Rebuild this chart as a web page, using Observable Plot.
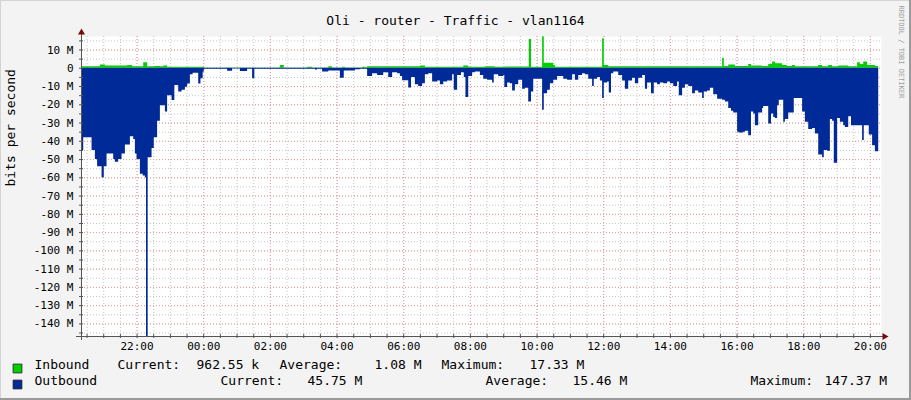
<!DOCTYPE html>
<html><head><meta charset="utf-8">
<script src="https://cdn.jsdelivr.net/npm/d3@7"></script>
<script src="https://cdn.jsdelivr.net/npm/@observablehq/plot@0.6"></script>
<style>
html,body{margin:0;padding:0;background:#f3f3f3;}
#chart{position:relative;width:911px;height:400px;box-shadow:inset -2px -2px 0 #9a9a9a, inset 1px 1px 0 #d4d4d4;}
#chart svg{display:block;}
</style></head><body><div id="chart"></div><script>
const title = "Oli - router - Traffic - vlan1164";
const yLabel = "bits per second";
const watermark = "RRDTOOL / TOBI OETIKER";

// Inbound (Mbit/s), step values starting at each time
const inTimes = ["20:20","20:54","21:03","21:43","21:52","22:12","22:19","22:33","22:42","22:48","22:55","00:01","02:18","02:25","03:07","03:16","03:45","03:52","04:10","04:15","04:46","04:52","04:55","06:30","06:39","07:48","07:57","08:27","08:45","09:03","09:46","09:50","10:10","10:13","10:30","10:33","11:58","12:01","12:09","15:34","15:37","15:45","15:57","16:21","16:26","16:46","16:57","17:04","17:09","17:22","17:31","17:40","17:45","18:27","18:34","18:45","18:52","19:03","19:21","19:37","19:42","19:48","19:55","20:09","20:15"];
const inValues = [0.8,1.8,1.2,1.5,0.8,3,0.8,1.0,0.8,1.2,0.5,0.2,1.5,0.2,0.6,0.2,0.8,0.2,0.6,0.2,0.6,0.3,0.8,1.2,0.6,1.2,0.6,0.9,0.6,0.7,15.7,0.5,17.33,2.8,1.5,0.6,16.2,1.5,0.8,5.5,1,1.8,1,2,1.2,1,2,3.5,2.5,1.5,1,1.5,0.8,1.5,0.8,1.5,0.8,1.3,0.8,3,2,3.5,1.5,0.96,0.96];

// Outbound (Mbit/s, drawn below zero)
const outTimes = ["20:20","20:24","20:39","20:45","20:49","20:57","21:01","21:06","21:18","21:21","21:27","21:33","21:39","21:48","21:54","21:57","22:00","22:06","22:11","22:15","22:17","22:20","22:27","22:31","22:37","22:42","22:51","22:55","23:03","23:08","23:15","23:21","23:27","23:31","23:36","23:41","23:51","23:55","23:59","00:01","00:43","00:52","01:06","01:19","01:28","01:32","03:21","03:25","03:34","03:45","04:06","04:13","04:33","04:42","04:55","05:04","05:13","05:24","05:33","05:40","05:49","05:54","05:58","06:09","06:14","06:21","06:27","06:34","06:39","06:45","06:52","07:01","07:06","07:12","07:19","07:28","07:31","07:37","07:44","07:49","07:52","07:57","08:04","08:09","08:18","08:24","08:31","08:40","08:43","08:51","09:00","09:02","09:07","09:12","09:16","09:21","09:27","09:34","09:39","09:45","09:50","09:54","10:10","10:13","10:19","10:24","10:30","10:37","10:48","10:55","11:04","11:09","11:15","11:22","11:27","11:33","11:40","11:43","11:49","11:54","11:58","12:01","12:07","12:10","12:14","12:18","12:27","12:34","12:39","12:45","12:52","12:57","13:03","13:10","13:15","13:19","13:26","13:31","13:37","13:42","13:48","13:55","14:00","14:06","14:13","14:16","14:22","14:27","14:33","14:40","14:45","14:51","14:58","15:01","15:07","15:12","15:18","15:25","15:34","15:39","15:45","15:50","15:54","16:01","16:04","16:12","16:15","16:21","16:26","16:30","16:33","16:39","16:46","16:48","16:57","17:02","17:06","17:09","17:13","17:16","17:24","17:27","17:33","17:43","17:58","18:03","18:09","18:16","18:21","18:27","18:34","18:37","18:43","18:48","18:52","18:55","19:01","19:06","19:12","19:15","19:21","19:26","19:46","19:49","19:58","20:04","20:09","20:15"];
const outValues = [45,38,45,50,54,60,54,47,50,51.5,50,47,42,37.5,39,47,50,58,59,60,147.37,49,44,38,29,20.5,24,15,17.7,9.5,13,12,10.4,8.6,3.5,2.7,8.6,5.8,2.2,0.5,1.6,0.4,1.8,0.5,5.8,0.5,1.0,0.5,2.0,1.5,5.5,1.5,0.8,0.5,4.5,3,4,2.5,5,2.5,3,4.5,6.8,10.8,5,9,10,8.5,3.5,3,7.5,7,9,7.5,7,3.5,12,4,2.5,5,16,4.5,2.5,2,4,6,6.5,8,3.5,4.5,4,10.5,8,8.5,12.5,9,6.5,11.5,11,18.5,13,6,23,14,12,8.5,6.5,4.5,6,6.5,3.5,6.5,4,3,3.5,6,10,6,5,7,16.5,8,7.5,13.5,3,2,4,7,11.5,7,5.5,8.5,5.5,4,11.5,8,14,8,9,8,8.5,7.5,8.5,10,7.5,15,11,9,10,14,12.5,13.5,16.5,13,12.5,11,14.5,17,17.5,18.5,22,23.5,24.5,35,35.5,35,34.5,37,24,25,31.5,24.5,22,21,30.5,25,27,27.5,20.5,17.5,29.5,28,24.5,16.5,24,29.5,33.5,33,36,47.5,49,45,45.5,28,29,52,27.5,29.5,31.5,32.5,26.5,31.5,39.5,31.5,36.5,42.5,45.75,45.75];

const xTickLabels = ["22:00","00:00","02:00","04:00","06:00","08:00","10:00","12:00","14:00","16:00","18:00","20:00"];
const yTicks = [10,0,-10,-20,-30,-40,-50,-60,-70,-80,-90,-100,-110,-120,-130,-140];

const legendNames = ["Inbound","Outbound"];
const legendColors = ["#00cf00","#002a97"];
const legendLabels = ["Current:","Average:","Maximum:"];
const inStats = ["962.55 k","1.08 M","17.33 M"];
const outStats = ["45.75 M","15.46 M","147.37 M"];

const start = new Date(2024,0,1,20,20);
const end = new Date(2024,0,2,20,20);
function toDate(s){const [h,m]=s.split(":").map(Number);let d=new Date(2024,0,1,h,m);if(d<start)d=new Date(2024,0,2,h,m);return d;}
const inData = inTimes.map((t,i)=>({t:toDate(t),v:inValues[i]}));
const outData = outTimes.map((t,i)=>({t:toDate(t),v:-outValues[i]}));
const majorX = xTickLabels.map(toDate);
const minorX = d3.timeMinute.every(30).range(start,end);
const yMin = -146.9, yMax = 17.4;
const minorY = d3.range(15,-146,-5);
const pxM = 10/18.26;   // Mbit/s per pixel
const pxT = 108000;     // ms per pixel

const mono = "DejaVu Sans Mono";
const legendX = [[34,117,196,279,374,441,529],[34,220,307,485,572,750,824]];
const rowsItems = [
  [legendNames[0], legendLabels[0], inStats[0], legendLabels[1], inStats[1], legendLabels[2], inStats[2]],
  [legendNames[1], legendLabels[0], outStats[0], legendLabels[1], outStats[1], legendLabels[2], outStats[2]]
];
const legendMarks = [];
rowsItems.forEach((items,ri)=>{
  items.forEach((s,k)=>legendMarks.push(Plot.text([s],{frameAnchor:"bottom-left", dx:legendX[ri][k]-81, dy:32+16*ri, textAnchor:"start", fontSize:13, fontFamily:mono, fill:"#000"})));
  legendMarks.push(Plot.dot([0],{frameAnchor:"bottom-left", dx:17-81, dy:32+16*ri, symbol:"square", r:5, fill:legendColors[ri], stroke:"#222", strokeWidth:0.8}));
});

const chart = Plot.plot({
  width:911, height:400,
  marginLeft:81, marginRight:30, marginTop:36, marginBottom:64,
  style:{background:"transparent", fontFamily:mono, color:"#000", overflow:"visible"},
  x:{type:"time", domain:[start,end], axis:null},
  y:{domain:[yMin,yMax], axis:null},
  marks:[
    Plot.frame({fill:"#fff", stroke:null}),
    Plot.ruleX(minorX,{stroke:"#c4c4c4", strokeDasharray:"1,2"}),
    Plot.ruleY(minorY,{stroke:"#c4c4c4", strokeDasharray:"1,2"}),
    Plot.ruleX(majorX,{stroke:"#ee9a9a", strokeDasharray:"1,2"}),
    Plot.ruleY(yTicks,{stroke:"#ee9a9a", strokeDasharray:"1,2"}),
    Plot.areaY(inData,{x:"t", y:"v", fill:"#00cf00", curve:"step-after"}),
    Plot.areaY(outData,{x:"t", y:"v", fill:"#002a97", curve:"step-after", clip:true}),
    // axis lines, ticks and arrows
    Plot.ruleY([yMin],{x1:new Date(start.getTime()-5*pxT), x2:new Date(end.getTime()+3*pxT), stroke:"#555"}),
    Plot.ruleX([start],{y1:yMin-4*pxM, y2:yMax+4*pxM, stroke:"#555"}),
    Plot.ruleX(minorX,{y1:yMin, y2:yMin, insetTop:-2, insetBottom:-2, stroke:"#555"}),
    Plot.ruleY(minorY,{x1:start, x2:start, insetLeft:-2, insetRight:-2, stroke:"#555"}),
    Plot.dot([0],{x:()=>new Date(end.getTime()+3*pxT), y:()=>yMin, symbol:"triangle", rotate:90, r:2.6, fill:"#7a0a0a", stroke:null}),
    Plot.dot([0],{x:()=>start, y:()=>yMax+4*pxM, symbol:"triangle", r:2.6, fill:"#7a0a0a", stroke:null}),
    // tick labels
    Plot.axisX({ticks:majorX, tickFormat:d3.timeFormat("%H:%M"), tickSize:0, tickPadding:6, fontSize:11, fontFamily:mono, label:null}),
    Plot.axisY({ticks:yTicks, tickFormat:d=>d===0?"0":`${d} M`, tickSize:0, tickPadding:8, fontSize:11, fontFamily:mono, label:null}),
    // texts
    Plot.text([title],{frameAnchor:"top-left", dx:374, dy:-21, textAnchor:"middle", fontSize:13, fontFamily:mono}),
    Plot.text([yLabel],{frameAnchor:"left", dx:-71, rotate:-90, fontSize:13, fontFamily:mono}),
    Plot.text([watermark],{frameAnchor:"top-right", dx:22, dy:-31, rotate:90, textAnchor:"start", fontSize:7, fontFamily:mono, fill:"#a0a0a0"}),
    ...legendMarks
  ]
});
document.getElementById("chart").appendChild(chart);
</script></body></html>
